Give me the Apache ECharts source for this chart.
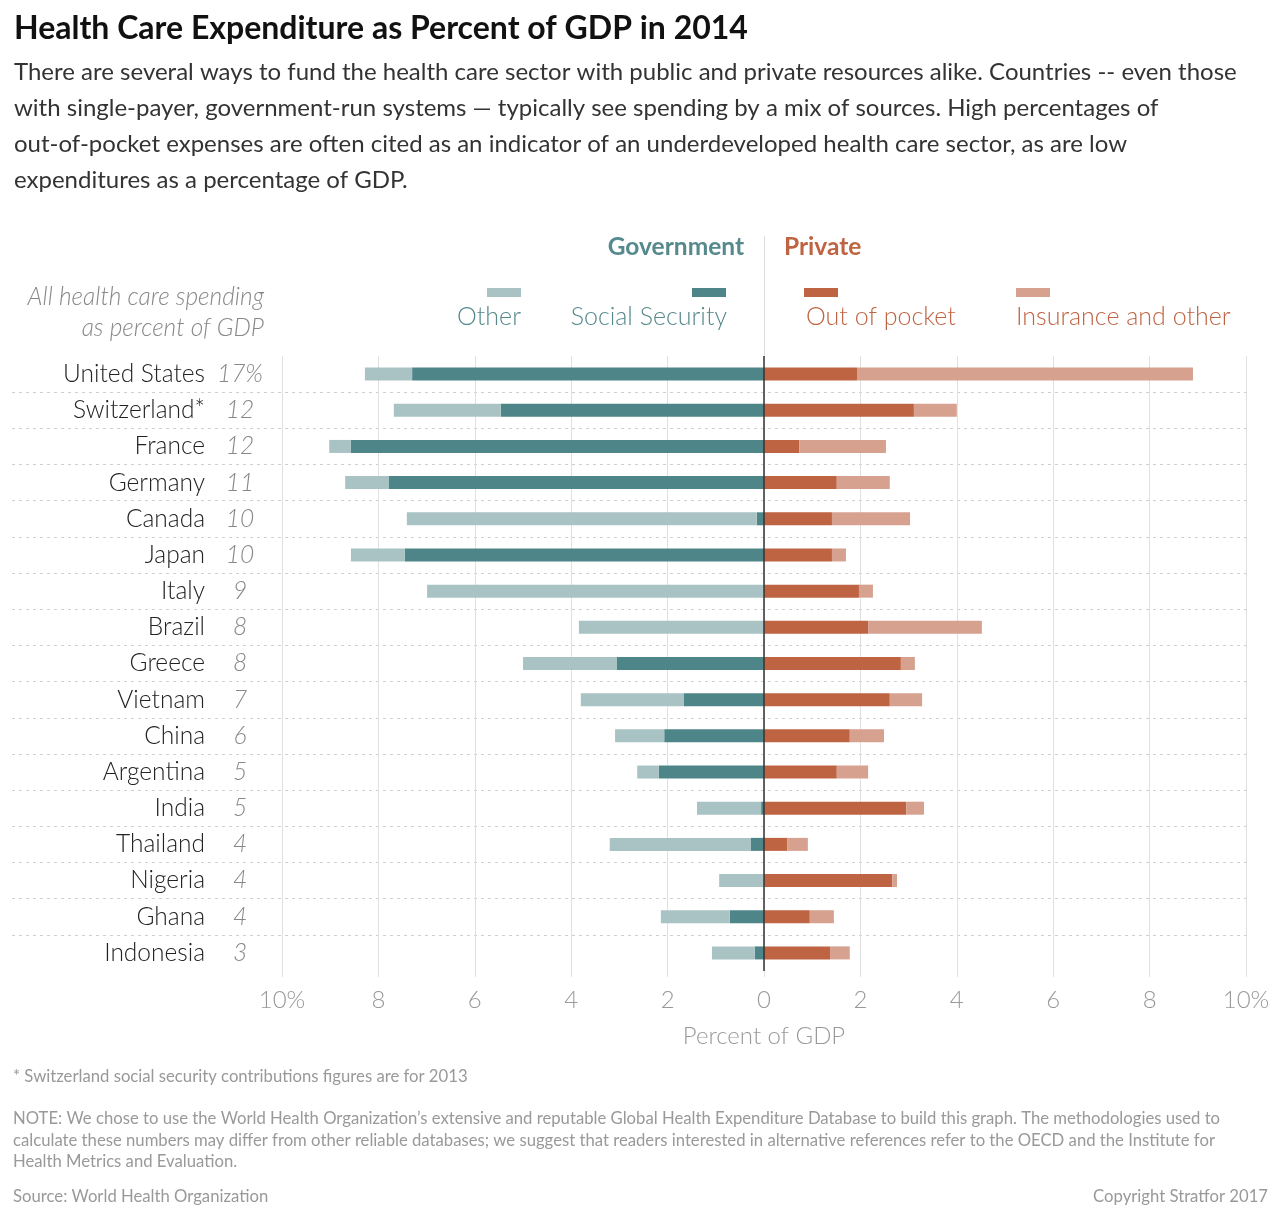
<!DOCTYPE html>
<html>
<head>
<meta charset="utf-8">
<script src="https://cdn.jsdelivr.net/npm/echarts@6/dist/echarts.min.js"></script>
<style>
  html, body { margin: 0; padding: 0; background: #fff; }
  #main { width: 1280px; height: 1222px; }
</style>
</head>
<body>
<div id="main"></div>
<script>
// data (percent of GDP, 2014)
var countries = ['United States', 'Switzerland*', 'France', 'Germany', 'Canada', 'Japan', 'Italy', 'Brazil',
  'Greece', 'Vietnam', 'China', 'Argentina', 'India', 'Thailand', 'Nigeria', 'Ghana', 'Indonesia'];
var totals = ['17%', '12', '12', '11', '10', '10', '9', '8', '8', '7', '6', '5', '5', '4', '4', '4', '3'];
var govSocial = [7.30, 5.46, 8.57, 7.78, 0.15, 7.45, 0, 0, 3.05, 1.66, 2.07, 2.18, 0.06, 0.28, 0, 0.71, 0.19];
var govOther = [0.98, 2.22, 0.45, 0.91, 7.26, 1.12, 6.99, 3.84, 1.95, 2.14, 1.02, 0.45, 1.33, 2.92, 0.93, 1.43, 0.89];
var outOfPocket = [1.93, 3.11, 0.73, 1.51, 1.41, 1.41, 1.97, 2.16, 2.84, 2.61, 1.78, 1.51, 2.95, 0.48, 2.66, 0.95, 1.37];
var insurance = [6.97, 0.89, 1.80, 1.10, 1.62, 0.29, 0.29, 2.36, 0.29, 0.67, 0.71, 0.65, 0.37, 0.43, 0.10, 0.50, 0.41];

var cOther = '#a9c3c5', cSocial = '#4e8588', cOop = '#bf6442', cIns = '#d7a18f';
var tealText = '#55898b', orangeText = '#bf6442';
var font = 'Lato, "Open Sans", sans-serif';

var myChart = echarts.init(document.getElementById('main'));

function neg(arr) { return arr.map(function (v) { return -v; }); }

var option = {
  animation: false,
  backgroundColor: '#fff',
  textStyle: { fontFamily: font },
  title: [{
    text: 'Health Care Expenditure as Percent of GDP in 2014',
    left: 9, top: 8,
    textStyle: { fontSize: 32, fontWeight: 'bold', color: '#111', fontFamily: font }
  }, {
    text: 'There are several ways to fund the health care sector with public and private resources alike. Countries -- even those\n' +
      'with single-payer, government-run systems \u2014 typically see spending by a mix of sources. High percentages of\n' +
      'out-of-pocket expenses are often cited as an indicator of an underdeveloped health care sector, as are low\n' +
      'expenditures as a percentage of GDP.',
    left: 9, top: 49,
    textStyle: { fontSize: 24, fontWeight: 'normal', color: '#333', lineHeight: 36, fontFamily: font }
  }],
  grid: [
    { left: 282, right: 34, top: 356, height: 615 },
    { left: 12, right: 34, top: 356, height: 615 }
  ],
  xAxis: [{
    gridIndex: 0, type: 'value', min: -10, max: 10, interval: 2,
    axisLine: { show: false },
    axisTick: { show: true, length: 6, lineStyle: { color: '#e0e0e0' } },
    splitLine: { show: true, lineStyle: { color: '#e0e0e0', width: 1 } },
    axisLabel: {
      margin: 17, fontSize: 24, color: '#999', fontWeight: 300, fontFamily: font,
      formatter: function (v) { return Math.abs(v) === 10 ? '10%' : String(Math.abs(v)); }
    },
    name: 'Percent of GDP', nameLocation: 'middle', nameGap: 53,
    nameTextStyle: { fontSize: 24, color: '#999', fontWeight: 300, fontFamily: font }
  }, {
    gridIndex: 1, type: 'value', min: 0, max: 1, show: false
  }],
  yAxis: [{
    gridIndex: 0, type: 'category', data: countries, inverse: true,
    axisLine: { show: false }, axisTick: { show: false }, splitLine: { show: false },
    axisLabel: {
      margin: 16,
      formatter: function (v, i) { return '{n|' + v + '}{s| }{t|' + totals[i] + '}'; },
      rich: {
        n: { fontSize: 24.5, color: '#222', fontFamily: font, fontWeight: 300 },
        s: { width: 9 },
        t: { fontSize: 24.5, color: '#888', fontStyle: 'italic', fontFamily: font, fontWeight: 300, width: 52, align: 'left' }
      }
    }
  }, {
    gridIndex: 1, type: 'category', data: countries, inverse: true,
    axisLine: { show: false }, axisTick: { show: false }, axisLabel: { show: false },
    splitLine: { show: true, showMinLine: false, showMaxLine: false, lineStyle: { color: '#cfcfcf', type: [3, 4], width: 1 } }
  }],
  series: [
    { name: 'Social Security', type: 'bar', stack: 'all', barWidth: 13, data: neg(govSocial), itemStyle: { color: cSocial } },
    { name: 'Other', type: 'bar', stack: 'all', barWidth: 13, data: neg(govOther), itemStyle: { color: cOther } },
    { name: 'Out of pocket', type: 'bar', stack: 'all', barWidth: 13, data: outOfPocket, itemStyle: { color: cOop } },
    {
      name: 'Insurance and other', type: 'bar', stack: 'all', barWidth: 13, data: insurance, itemStyle: { color: cIns },
      markLine: {
        silent: true, symbol: 'none', label: { show: false },
        lineStyle: { color: '#333', width: 1.5, type: 'solid' },
        data: [{ xAxis: 0 }]
      }
    }
  ],
  graphic: [
    // header divider and group labels
    { type: 'line', shape: { x1: 764.5, y1: 236, x2: 764.5, y2: 356 }, style: { stroke: '#dcdcdc', lineWidth: 1 } },
    { type: 'text', x: 744, y: 247, style: { text: 'Government', align: 'right', verticalAlign: 'middle', fontSize: 24.5, fontWeight: 'bold', fill: tealText, fontFamily: font } },
    { type: 'text', x: 784, y: 247, style: { text: 'Private', align: 'left', verticalAlign: 'middle', fontSize: 24.5, fontWeight: 'bold', fill: orangeText, fontFamily: font } },
    // left header
    { type: 'text', x: 264, y: 297, style: { text: 'All health care spending', align: 'right', verticalAlign: 'middle', fontSize: 24.5, fontStyle: 'italic', fontWeight: 300, fill: '#888', fontFamily: font } },
    { type: 'text', x: 264, y: 328, style: { text: 'as percent of GDP', align: 'right', verticalAlign: 'middle', fontSize: 24.5, fontStyle: 'italic', fontWeight: 300, fill: '#888', fontFamily: font } },
    // legend
    { type: 'rect', shape: { x: 487, y: 288, width: 34, height: 9 }, style: { fill: cOther } },
    { type: 'text', x: 521, y: 317, style: { text: 'Other', align: 'right', verticalAlign: 'middle', fontSize: 25, fontWeight: 300, fill: tealText, fontFamily: font } },
    { type: 'rect', shape: { x: 692, y: 288, width: 34, height: 9 }, style: { fill: cSocial } },
    { type: 'text', x: 727, y: 317, style: { text: 'Social Security', align: 'right', verticalAlign: 'middle', fontSize: 25, fontWeight: 300, fill: tealText, fontFamily: font } },
    { type: 'rect', shape: { x: 804, y: 288, width: 34, height: 9 }, style: { fill: cOop } },
    { type: 'text', x: 806, y: 317, style: { text: 'Out of pocket', align: 'left', verticalAlign: 'middle', fontSize: 25, fontWeight: 300, fill: orangeText, fontFamily: font } },
    { type: 'rect', shape: { x: 1016, y: 288, width: 34, height: 9 }, style: { fill: cIns } },
    { type: 'text', x: 1016, y: 317, style: { text: 'Insurance and other', align: 'left', verticalAlign: 'middle', fontSize: 25, fontWeight: 300, fill: orangeText, fontFamily: font } },
    // footer
    { type: 'text', x: 13, y: 1077, style: { text: '* Switzerland social security contributions figures are for 2013', verticalAlign: 'middle', fontSize: 16.7, fill: '#999', fontFamily: font } },
    { type: 'text', x: 13, y: 1108, style: {
      text: 'NOTE: We chose to use the World Health Organization\u2019s extensive and reputable Global Health Expenditure Database to build this graph. The methodologies used to\n' +
        'calculate these numbers may differ from other reliable databases; we suggest that readers interested in alternative references refer to the OECD and the Institute for\n' +
        'Health Metrics and Evaluation.',
      verticalAlign: 'top', fontSize: 16.7, lineHeight: 21.5, fill: '#999', fontFamily: font } },
    { type: 'text', x: 13, y: 1197, style: { text: 'Source: World Health Organization', verticalAlign: 'middle', fontSize: 16.7, fill: '#999', fontFamily: font } },
    { type: 'text', x: 1268, y: 1197, style: { text: 'Copyright Stratfor 2017', align: 'right', verticalAlign: 'middle', fontSize: 16.7, fill: '#999', fontFamily: font } }
  ]
};

myChart.setOption(option);
</script>
</body>
</html>
